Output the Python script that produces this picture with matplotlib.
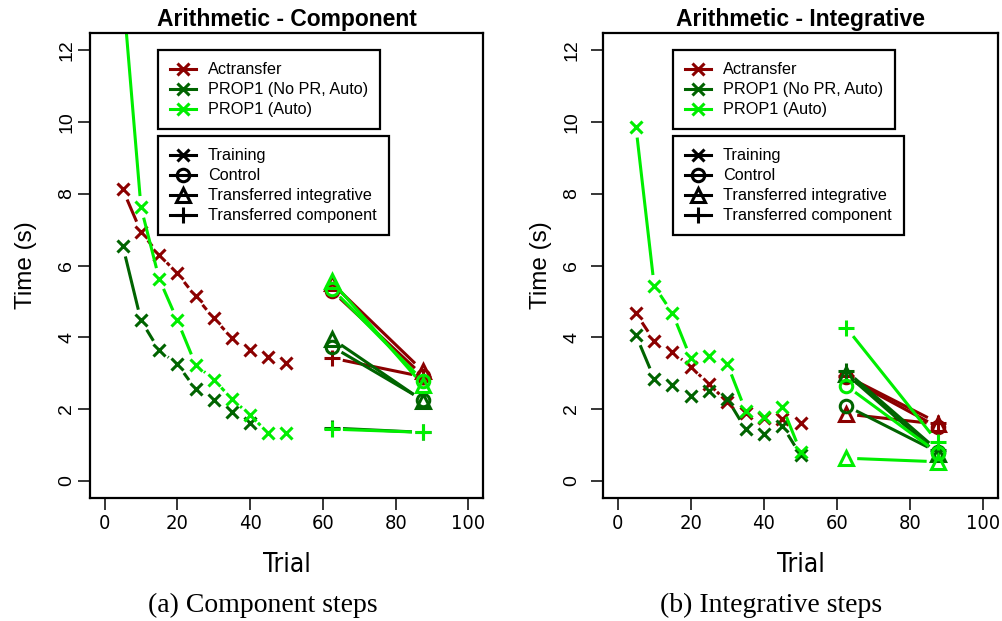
import matplotlib
matplotlib.use("Agg")
import matplotlib.pyplot as plt
from matplotlib.lines import Line2D
from matplotlib import font_manager as fm
import numpy as np

# ---------------- data ----------------
trial = [5, 10, 15, 20, 25, 30, 35, 40, 45, 50]
transfer_x = [62.5, 87.5]

series_names = ["Actransfer", "PROP1 (No PR, Auto)", "PROP1 (Auto)"]
series_colors = ["#8B0000", "#006400", "#00EE00"]
condition_names = ["Training", "Control", "Transferred integrative", "Transferred component"]

# Component steps, training
comp_act_train = [8.12, 6.94, 6.30, 5.78, 5.14, 4.53, 3.98, 3.65, 3.44, 3.29]
comp_nopr_train = [6.55, 4.47, 3.64, 3.25, 2.56, 2.26, 1.93, 1.62]
comp_auto_train = [13.7, 7.63, 5.63, 4.47, 3.24, 2.82, 2.28, 1.83, 1.33, 1.33]

# Component steps, transfer (rows: Actransfer, PROP1 No PR, PROP1 Auto)
comp_control = [[5.29, 2.93], [3.74, 2.25], [5.35, 2.79]]
comp_integ = [[5.50, 3.06], [3.96, 2.23], [5.56, 2.67]]
comp_comp = [[3.42, 2.90], [1.47, 1.35], [1.44, 1.35]]

# Integrative steps, training
int_act_train = [4.67, 3.90, 3.59, 3.18, 2.69, 2.20, 1.90, 1.76, 1.71, 1.62]
int_nopr_train = [4.06, 2.85, 2.68, 2.37, 2.51, 2.28, 1.44, 1.31, 1.54, 0.72]
int_auto_train = [9.87, 5.43, 4.67, 3.41, 3.48, 3.25, 1.95, 1.77, 2.07, 0.81]

# Integrative steps, transfer
int_control = [[2.88, 1.50], [2.09, 0.80], [2.65, 0.78]]
int_integ = [[1.86, 1.58], [2.98, 0.75], [0.63, 0.53]]
int_comp = [[2.92, 1.62], [3.06, 0.85], [4.27, 1.08]]

panels = [
    ("Arithmetic - Component", [comp_act_train, comp_nopr_train, comp_auto_train],
     [comp_control, comp_integ, comp_comp], "(a) Component steps"),
    ("Arithmetic - Integrative", [int_act_train, int_nopr_train, int_auto_train],
     [int_control, int_integ, int_comp], "(b) Integrative steps"),
]

cond_markers = ["x", "o", "^", "+"]
cond_ms = [9, 9, 10, 12]

SANS = ["Liberation Sans", "DejaVu Sans"]
SERIF = ["Liberation Serif", "DejaVu Serif"]


def narrow_props(size):
    for fam in ["Liberation Sans Narrow", "Arial Narrow", "Nimbus Sans Narrow"]:
        try:
            fm.findfont(fm.FontProperties(family=fam), fallback_to_default=False)
            return dict(family=fam, fontsize=size)
        except Exception:
            pass
    p = fm.findfont(fm.FontProperties(family="DejaVu Sans", stretch="condensed"))
    if "Condensed" in p:
        return dict(family="DejaVu Sans", fontstretch="condensed", fontsize=size * 0.9)
    return dict(family=SANS, fontsize=size * 0.9)


fig = plt.figure(figsize=(10.02, 6.21), dpi=100)
W, H = 1002.0, 621.0
ax_boxes = [(90, 33, 483, 498), (603, 33, 998, 498)]
legend_left = [157.7, 672.7]
caption_x = [263, 771]
ylabel_right = [37, 552]

LW = 2.2
GAP = 11.0  # px gap around points (R type="b")


def gapped_line(ax, xs, ys, color):
    pts = ax.transData.transform(np.column_stack([xs, ys]))
    inv = ax.transData.inverted()
    for p0, p1 in zip(pts[:-1], pts[1:]):
        d = p1 - p0
        L = np.hypot(d[0], d[1])
        if L <= 2 * GAP:
            continue
        u = d / L
        a = inv.transform(p0 + u * GAP)
        b = inv.transform(p1 - u * GAP)
        ax.plot([a[0], b[0]], [a[1], b[1]], color=color, lw=LW, solid_capstyle="butt")


xtick_kw = narrow_props(16)
xlabel_kw = narrow_props(21)

for pi, (title, trains, transfers, caption) in enumerate(panels):
    x0, y0, x1, y1 = ax_boxes[pi]
    ax = fig.add_axes([x0 / W, 1 - y1 / H, (x1 - x0) / W, (y1 - y0) / H])
    ax.set_xlim(-4, 104)
    ax.set_ylim(-0.48, 12.48)

    for si in range(3):
        col = series_colors[si]
        ys = trains[si]
        xs = trial[:len(ys)]
        gapped_line(ax, xs, ys, col)
        ax.plot(xs, ys, ls="none", marker="x", ms=cond_ms[0], mew=2.2, color=col)
        for ci in range(3):
            vals = transfers[ci][si]
            gapped_line(ax, transfer_x, vals, col)
            ax.plot(transfer_x, vals, ls="none", marker=cond_markers[ci + 1],
                    ms=cond_ms[ci + 1], mew=2.2, color=col, mfc="none")

    for s in ax.spines.values():
        s.set_linewidth(1.6)
    ax.set_xticks([0, 20, 40, 60, 80, 100])
    ax.set_yticks([0, 2, 4, 6, 8, 10, 12])
    ax.tick_params(axis="both", direction="out", length=8.5, width=1.1)
    ax.tick_params(axis="x", pad=3)
    ax.tick_params(axis="y", pad=2 if pi == 0 else 8)
    for lab in ax.get_xticklabels():
        lab.update(xtick_kw)
    for lab in ax.get_yticklabels():
        lab.set_family(SANS)
        lab.set_fontsize(14)
        lab.set_rotation(90)
        lab.set_va("center")

    ax.set_title(title, fontsize=16.5, fontweight="bold", family=SANS, pad=5)
    ax.set_xlabel("Trial", **xlabel_kw)
    ax.xaxis.set_label_coords(0.5, (y1 - 552) / (y1 - y0))
    ax.set_ylabel("Time (s)", fontsize=17.5, family=SANS)
    ax.yaxis.set_label_coords((ylabel_right[pi] - x0) / (x1 - x0), 0.5)

    lx = (legend_left[pi] - x0) / (x1 - x0)
    common = dict(loc="upper left", borderaxespad=0, frameon=True, fancybox=False,
                  framealpha=1, edgecolor="black", prop={"family": SANS, "size": 11.7},
                  handlelength=1.6, handletextpad=0.75, borderpad=0.75, labelspacing=0.31)
    h1 = [Line2D([], [], color=c, lw=LW, marker="x", ms=9, mew=2.2) for c in series_colors]
    leg1 = ax.legend(h1, series_names, bbox_to_anchor=(lx, (y1 - 50) / (y1 - y0)), **common)
    leg1.get_frame().set_linewidth(1.6)
    ax.add_artist(leg1)
    h2 = [Line2D([], [], color="black", lw=LW, marker=m, ms=ms, mew=2.2, mfc="none")
          for m, ms in zip(cond_markers, cond_ms)]
    leg2 = ax.legend(h2, condition_names, bbox_to_anchor=(lx, (y1 - 136) / (y1 - y0)), **common)
    leg2.get_frame().set_linewidth(1.6)

    fig.text(caption_x[pi] / W, 1 - 605 / H, caption, ha="center", va="center",
             fontsize=20, family=SERIF)

fig.savefig("out.png", dpi=100)
